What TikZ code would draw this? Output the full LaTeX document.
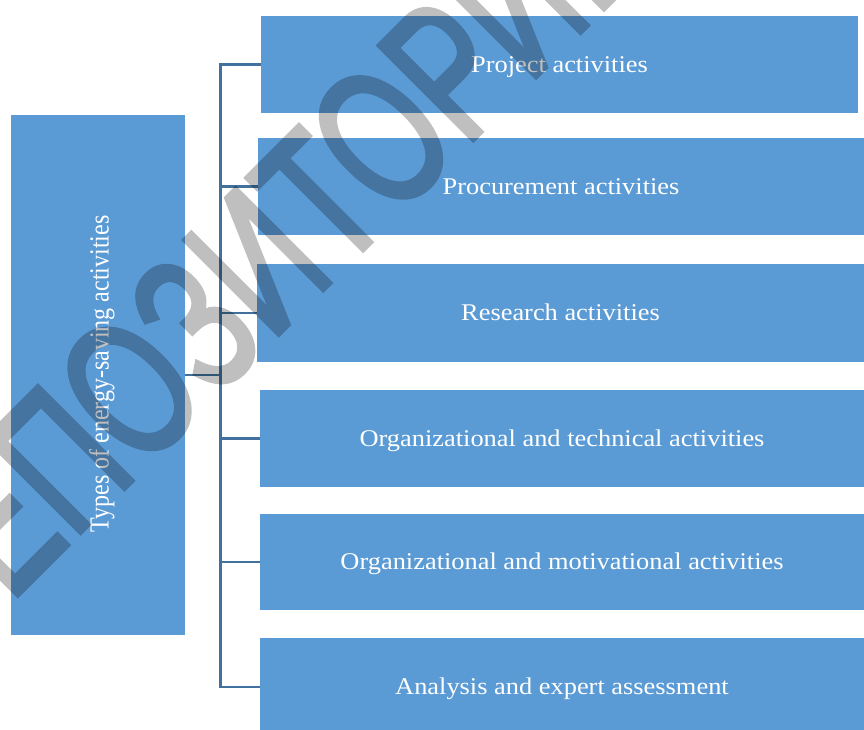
\documentclass[tikz,border=0pt]{standalone}
\usepackage{fontspec}
\setmainfont{Liberation Serif}
\newfontfamily\wmfont[FakeBold=2.5]{Liberation Sans}
\definecolor{boxblue}{HTML}{5B9BD5}
\definecolor{lineblue}{HTML}{41719C}
\begin{document}
\begin{tikzpicture}[x=1pt,y=-1pt,
  box/.style={fill=boxblue, draw=none, inner sep=0pt, text=white,
    font=\fontsize{24}{28}\selectfont, text height=15.9pt, text depth=0pt},
  lbl/.style={inner sep=0pt, text=white,
    font=\fontsize{24}{28}\selectfont, text height=18.3pt, text depth=0pt},
  conn/.style={draw=lineblue, line width=2.6pt},
  wm/.style={inner sep=0pt, text=black,
    font=\wmfont\fontsize{155}{155}\selectfont}]
\clip (0,0) rectangle (864,729);
\fill[white] (0,0) rectangle (864,729);

% root box
\node[box, minimum width=174pt, minimum height=520pt] (root) at (98,375) {};
\node[lbl, rotate=90] (roottext) at (99.5,374) {\scalebox{1}[1.15]{Types of energy-saving activities}};

% activity boxes
\node[box, minimum width=597pt, minimum height=97pt] (b1) at (559.5,64.5) {\scalebox{1.1}[1]{Project activities}};
\node[box, minimum width=606pt, minimum height=97pt] (b2) at (561,186.5) {\scalebox{1.1}[1]{Procurement activities}};
\node[box, minimum width=607pt, minimum height=98pt] (b3) at (560.5,313) {\scalebox{1.1}[1]{Research activities}};
\node[box, minimum width=604pt, minimum height=97pt] (b4) at (562,438.5) {\scalebox{1.1}[1]{Organizational and technical activities}};
\node[box, minimum width=604pt, minimum height=96pt] (b5) at (562,562) {\scalebox{1.1}[1]{Organizational and motivational activities}};
\node[box, minimum width=604pt, minimum height=98pt] (b6) at (562,687) {\scalebox{1.1}[1]{Analysis and expert assessment}};

% connectors
\coordinate (tr) at (220.5,0);
\draw[conn] (b1.west) -- (b1.west -| tr) -- (b6.west -| tr) -- (b6.west);
\draw[conn] (b2.west -| tr) -- (b2.west);
\draw[conn] (b3.west -| tr) -- (b3.west);
\draw[conn] (b4.west -| tr) -- (b4.west);
\draw[conn] (b5.west -| tr) -- (b5.west);
\draw[conn] (root.east) -- (root.east -| tr);

% watermark
\begin{scope}[transparency group, opacity=0.25]
\node[wm, rotate=45, anchor=base] (wm) at (305,308) {\scalebox{0.86}[1.25]{РЕПОЗИТОРИЙ}};
\end{scope}
\end{tikzpicture}
\end{document}
